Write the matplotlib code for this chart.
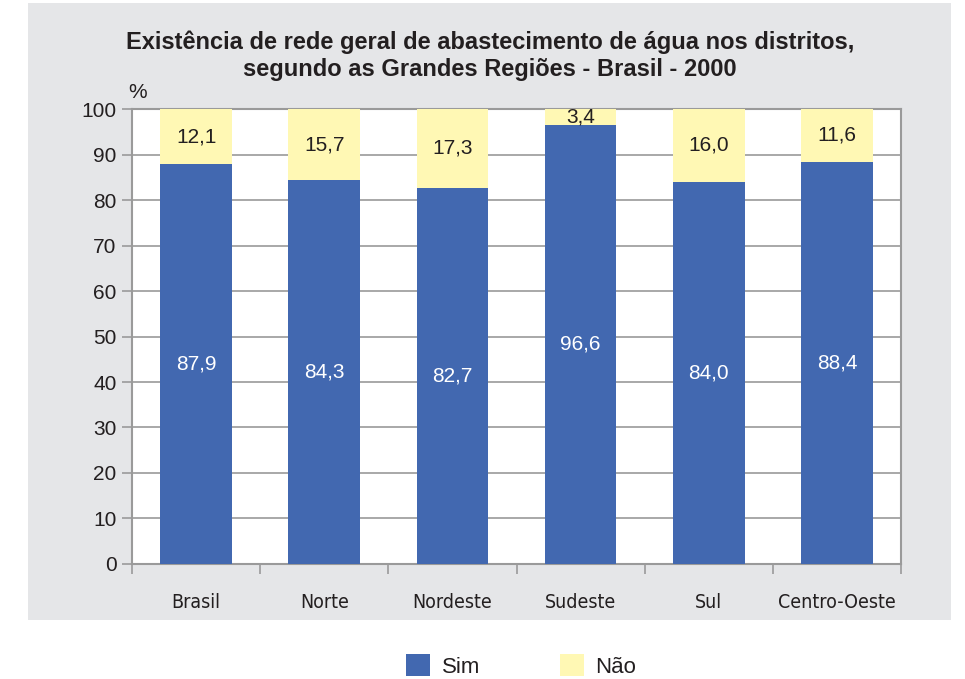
import numpy as np
import matplotlib
matplotlib.use('Agg')
import matplotlib.pyplot as plt
from matplotlib.patches import Rectangle

# dados
regioes = ['Brasil', 'Norte', 'Nordeste', 'Sudeste', 'Sul', 'Centro-Oeste']
sim = [87.9, 84.3, 82.7, 96.6, 84.0, 88.4]
nao = [12.1, 15.7, 17.3, 3.4, 16.0, 11.6]
yticks = [0, 10, 20, 30, 40, 50, 60, 70, 80, 90, 100]

azul = '#4268b0'
amarelo = '#fff8b4'
cinza_fundo = '#e5e6e8'
cinza_linha = '#9a9a9a'
texto = '#231f20'

plt.rcParams['font.family'] = ['Liberation Sans', 'DejaVu Sans']

fig = plt.figure(figsize=(9.65, 6.79), dpi=100)
fig.patches.append(Rectangle((0.029, 0.087), 0.957, 0.909, transform=fig.transFigure,
                             facecolor=cinza_fundo, edgecolor='none', zorder=-10))

ax = fig.add_axes([0.1368, 0.1694, 0.7969, 0.670])
x = np.arange(len(regioes))
w = 0.56
ax.bar(x, sim, w, color=azul, zorder=3, label='Sim')
ax.bar(x, nao, w, bottom=sim, color=amarelo, zorder=3, label='Não')

for i in range(len(regioes)):
    ax.text(x[i], sim[i] / 2, f'{sim[i]:.1f}'.replace('.', ','), ha='center', va='center',
            color='white', fontsize=15, zorder=4)
    ax.text(x[i], sim[i] + nao[i] / 2, f'{nao[i]:.1f}'.replace('.', ','), ha='center', va='center',
            color=texto, fontsize=15, zorder=4)

ax.set_xlim(-0.5, len(regioes) - 0.5)
ax.set_ylim(0, 100)
ax.set_yticks(yticks)
ax.set_yticklabels([str(v) for v in yticks], fontsize=15, color=texto)
ax.yaxis.grid(True, color=cinza_linha, linewidth=1.2, zorder=0)
ax.tick_params(axis='y', length=7, width=1.2, color=cinza_linha, pad=4)

ax.set_xticks(x)
ax.set_xticklabels(regioes, fontsize=14, color=texto, family='DejaVu Sans', fontstretch='condensed')
ax.tick_params(axis='x', which='major', length=0, pad=21)
ax.set_xticks(np.arange(len(regioes) + 1) - 0.5, minor=True)
ax.tick_params(axis='x', which='minor', length=7, width=1.2, color=cinza_linha)

for s in ax.spines.values():
    s.set_color(cinza_linha)
    s.set_linewidth(1.5)

ax.text(-0.53, 101.5, '%', fontsize=15, color=texto, ha='left', va='bottom')

fig.text(0.508, 0.918, 'Existência de rede geral de abastecimento de água nos distritos,\n'
         'segundo as Grandes Regiões - Brasil - 2000',
         ha='center', va='center', fontsize=17, fontweight='bold', color=texto, linespacing=1.2)

fig.legend(loc='center', bbox_to_anchor=(0.54, 0.019), ncol=2, frameon=False, fontsize=16,
           handlelength=1.1, handleheight=1.1, handletextpad=0.5, columnspacing=3.6,
           labelcolor=texto)

fig.savefig('out.png', dpi=100)
